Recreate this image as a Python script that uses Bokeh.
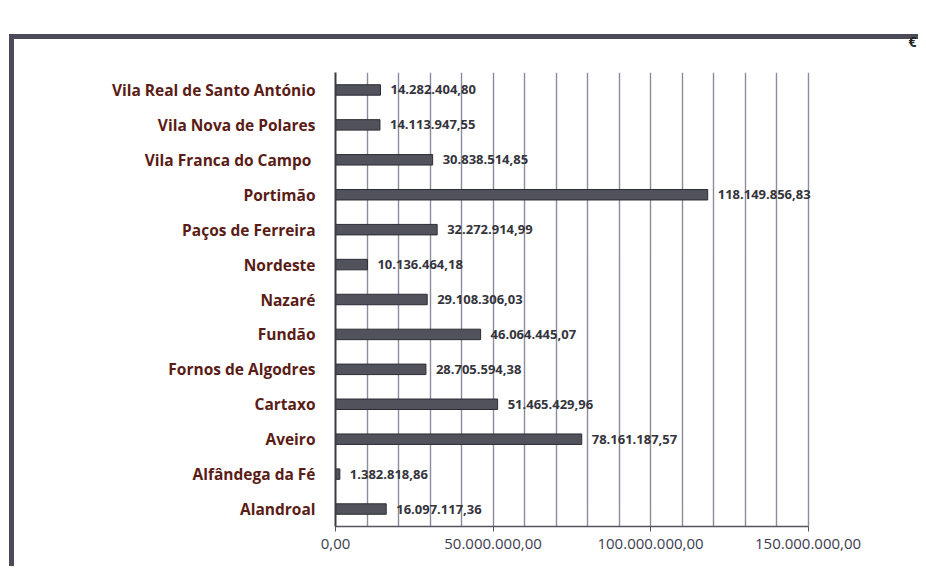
import numpy as np
from bokeh.plotting import figure
from bokeh.models import (ColumnDataSource, Range1d, FixedTicker, SingleIntervalTicker,
                          LabelSet)
from bokeh.embed import file_html
from bokeh.resources import INLINE
from bokeh.core.properties import value

# ---- data (top to bottom as shown) ----
municipios = [
    "Vila Real de Santo António",
    "Vila Nova de Polares",
    "Vila Franca do Campo ",
    "Portimão",
    "Paços de Ferreira",
    "Nordeste",
    "Nazaré",
    "Fundão",
    "Fornos de Algodres",
    "Cartaxo",
    "Aveiro",
    "Alfândega da Fé",
    "Alandroal",
]
valores = [
    14282404.80,
    14113947.55,
    30838514.85,
    118149856.83,
    32272914.99,
    10136464.18,
    29108306.03,
    46064445.07,
    28705594.38,
    51465429.96,
    78161187.57,
    1382818.86,
    16097117.36,
]
tick_values = [0, 50000000, 100000000, 150000000]
tick_labels = ["0,00", "50.000.000,00", "100.000.000,00", "150.000.000,00"]
unidade = "€"


def fmt_pt(v):
    s = f"{v:,.2f}"
    return s.replace(",", "X").replace(".", ",").replace("X", ".")


src = ColumnDataSource(dict(
    cat=municipios,
    val=valores,
    lab=[fmt_pt(v) for v in valores],
))

factors = list(reversed(municipios))

W, H = 918, 566
FL, FT, FB, FR = 335, 72, 40, 101  # borders around the plot frame
x_max = tick_values[-1]
p = figure(width=W, height=H, y_range=factors, x_range=Range1d(0, 153000000),
           output_backend="svg", toolbar_location=None,
           min_border_left=FL, min_border_right=FR,
           min_border_top=FT, min_border_bottom=FB)
p.outline_line_color = None
p.background_fill_color = "white"
p.border_fill_alpha = 0.0

# scanned page frame (left and top edges) drawn behind the transparent canvas border
edge = "#4a4a58"
p.styles = {
    "background-color": "white",
    "background-image": f"linear-gradient({edge}, {edge}), linear-gradient({edge}, {edge})",
    "background-size": "5px 600px, 1000px 5px",
    "background-position": "9px 34px, 9px 34px",
    "background-repeat": "no-repeat",
}

# unit marker, top right
p.title.text = unidade
p.title.align = "right"
p.title.offset = -(916 - (W - FR))
p.title.standoff = 44
p.title.text_font = "Open Sans"
p.title.text_font_style = "bold"
p.title.text_font_size = "14px"
p.title.text_color = "#222"

# grid
p.ygrid.grid_line_color = None
p.xgrid.ticker = SingleIntervalTicker(interval=10000000)
p.xgrid.bounds = (0, x_max)
p.xgrid.grid_line_color = "#8c8c9c"
p.xgrid.grid_line_width = 1.4

# x axis
p.xaxis.ticker = FixedTicker(ticks=tick_values)
p.xaxis.bounds = (0, x_max)
p.xaxis.major_label_overrides = {t: l for t, l in zip(tick_values, tick_labels)}
p.xaxis.major_label_text_font = "Open Sans"
p.xaxis.major_label_text_font_size = "15px"
p.xaxis.major_label_text_color = "#3c3c50"
p.xaxis.axis_line_color = "#555560"
p.xaxis.axis_line_width = 1.5
p.xaxis.major_tick_line_color = "#555560"
p.xaxis.major_tick_out = 5
p.xaxis.major_tick_in = 0
p.xaxis.minor_tick_line_color = None
p.xaxis.major_label_standoff = 7

# y axis
p.yaxis.major_label_text_font = "Open Sans"
p.yaxis.major_label_text_font_style = "bold"
p.yaxis.major_label_text_font_size = "15.5px"
p.yaxis.major_label_text_color = "#5a1c16"
p.yaxis.axis_line_color = "#3a3a44"
p.yaxis.axis_line_width = 2
p.yaxis.major_tick_line_color = None
p.yaxis.major_tick_out = 0
p.yaxis.major_label_standoff = 20

# bars
p.hbar(y="cat", right="val", left=0, height=0.3, source=src,
       fill_color="#52525c", line_color="#2c2c34", line_width=1)

# value labels
p.add_layout(LabelSet(x="val", y="cat", text="lab", source=src, x_offset=10,
                      text_font=value("Open Sans"), text_font_style="bold",
                      text_font_size="13px", text_color="#34343c",
                      text_baseline="middle", text_align="left"))

open("out.html", "w").write(file_html(p, INLINE))
